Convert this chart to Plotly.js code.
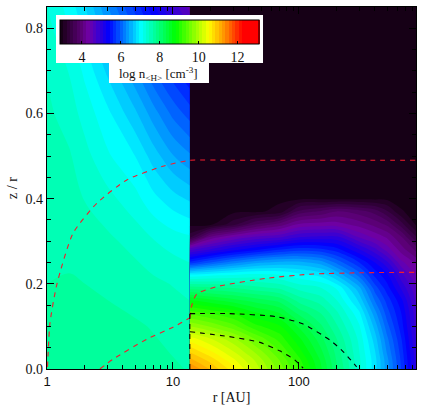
<!DOCTYPE html>
<html>
<head>
<meta charset="utf-8">
<script src="https://cdn.plot.ly/plotly-3.0.1.min.js"></script>
<style>
  html, body { margin: 0; padding: 0; background: white; }
  #plot { width: 431px; height: 406px; }
</style>
</head>
<body>
<div id="plot"></div>
<script>
// inner disk (log n, rows = z/r, columns = r)
const innerR = [1, 1.5, 2, 3, 5, 7, 10, 13.6];
const innerZ = [0, 0.1, 0.2, 0.3, 0.4, 0.5, 0.6, 0.7, 0.8, 0.85];
const innerDensity = [
    [7.65, 7.68, 7.70, 7.72, 7.70, 7.68, 7.65, 7.62],
    [7.64, 7.66, 7.68, 7.68, 7.65, 7.62, 7.58, 7.55],
    [7.63, 7.64, 7.63, 7.60, 7.55, 7.50, 7.45, 7.40],
    [7.62, 7.60, 7.55, 7.50, 7.40, 7.30, 7.22, 7.18],
    [7.60, 7.58, 7.45, 7.35, 7.18, 7.00, 6.85, 6.75],
    [7.55, 7.48, 7.35, 7.15, 6.95, 6.70, 6.45, 6.30],
    [7.50, 7.38, 7.22, 7.00, 6.65, 6.35, 6.05, 5.85],
    [7.45, 7.28, 7.08, 6.75, 6.30, 5.95, 5.65, 5.40],
    [7.35, 7.12, 6.90, 6.45, 5.90, 5.50, 5.10, 4.75],
    [7.30, 7.05, 6.80, 6.30, 5.70, 5.30, 4.85, 4.50]
];

// outer disk
const outerR = [13.6, 20, 30, 45, 70, 100, 150, 200, 300, 400, 500, 650, 850];
const outerZ = [0, 0.02, 0.04, 0.07, 0.10, 0.13, 0.16, 0.19, 0.22, 0.25, 0.28, 0.31, 0.34, 0.37, 0.40, 0.85];
const outerDensity = [
    [11.4, 11.0, 10.6, 10.1, 9.60, 9.15, 8.50, 8.00, 7.35, 6.85, 6.35, 5.75, 5.00],
    [11.1, 10.8, 10.4, 10.0, 9.50, 9.05, 8.45, 7.95, 7.33, 6.85, 6.33, 5.72, 5.00],
    [10.85, 10.55, 10.2, 9.82, 9.35, 8.90, 8.35, 7.90, 7.30, 6.80, 6.25, 5.68, 4.95],
    [10.45, 10.2, 9.90, 9.50, 9.10, 8.70, 8.20, 7.80, 7.25, 6.70, 6.15, 5.60, 4.90],
    [9.85, 9.65, 9.40, 9.05, 8.85, 8.45, 8.00, 7.65, 7.15, 6.55, 6.00, 5.50, 4.85],
    [9.30, 9.15, 9.00, 8.70, 8.50, 8.10, 7.80, 7.50, 7.00, 6.35, 5.85, 5.42, 4.80],
    [8.70, 8.55, 8.40, 8.25, 8.10, 7.75, 7.55, 7.30, 6.75, 6.10, 5.70, 5.30, 4.70],
    [7.90, 7.85, 7.80, 7.70, 7.60, 7.40, 7.30, 7.10, 6.50, 5.85, 5.50, 5.05, 4.60],
    [7.03, 7.10, 7.15, 7.20, 7.15, 7.03, 6.90, 6.60, 6.05, 5.55, 5.30, 4.80, 4.40],
    [5.65, 5.95, 6.20, 6.40, 6.50, 6.50, 6.35, 6.05, 5.60, 5.25, 4.95, 4.45, 4.20],
    [4.70, 4.95, 5.20, 5.39, 5.60, 5.70, 5.65, 5.50, 5.10, 4.80, 4.50, 4.15, 3.85],
    [3.30, 4.10, 4.40, 4.60, 4.70, 4.90, 4.95, 4.95, 4.55, 4.35, 4.20, 3.90, 3.40],
    [3.00, 3.00, 3.30, 3.70, 3.95, 4.25, 4.30, 4.30, 4.15, 4.00, 3.85, 3.45, 3.00],
    [3.00, 3.00, 3.00, 3.00, 3.10, 3.60, 3.75, 3.90, 3.80, 3.65, 3.40, 3.05, 3.00],
    [3.00, 3.00, 3.00, 3.00, 3.00, 3.00, 3.00, 3.00, 3.00, 3.00, 3.00, 3.00, 3.00],
    [3.00, 3.00, 3.00, 3.00, 3.00, 3.00, 3.00, 3.00, 3.00, 3.00, 3.00, 3.00, 3.00]
];

// dashed boundaries
const upperRedR = [1.01, 1.056, 1.2, 1.61, 2.5, 4.3, 8.3, 13.6, 30, 100, 400, 850];
const upperRedZ = [0.005, 0.108, 0.2, 0.319, 0.39, 0.444, 0.476, 0.49, 0.49, 0.49, 0.49, 0.49];
const lowerRedInnerR = [2.63, 3.34, 6.2, 10, 13.6];
const lowerRedInnerZ = [0, 0.023, 0.07, 0.098, 0.12];
const lowerRedOuterR = [13.6, 14, 15.4, 22, 55, 130, 322, 850];
const lowerRedOuterZ = [0.12, 0.146, 0.176, 0.193, 0.213, 0.223, 0.226, 0.227];
const blackUpperR = [13.6, 28, 66, 107, 176, 224, 287];
const blackUpperZ = [0.13, 0.13, 0.123, 0.106, 0.068, 0.041, 0.005];
const blackLowerR = [13.6, 28, 49, 71, 93, 108];
const blackLowerZ = [0.0876, 0.076, 0.0625, 0.042, 0.021, 0.002];
const blackEdgeR = [13.6, 13.6];
const blackEdgeZ = [0, 0.13];

const densityColors = [
    [0, '#0a000a'],
    [0.013, '#1c001c'],
    [0.11, '#5c0078'],
    [0.146, '#7000a8'],
    [0.246, '#0000ff'],
    [0.407, '#00ffff'],
    [0.583, '#00ff00'],
    [0.749, '#ffff00'],
    [0.824, '#ff9900'],
    [0.92, '#ff0000'],
    [1, '#ff0000']
];

const serif = 'Liberation Serif';
const sans = 'Liberation Sans';

function densityTrace(x, y, z, extra) {
    return Object.assign({
        type: 'contour',
        x: x,
        y: y,
        z: z,
        zmin: 2.87,
        zmax: 13.1,
        zauto: false,
        colorscale: densityColors,
        autocontour: false,
        contours: { start: 2.87, end: 13.1, size: 0.17, coloring: 'fill', showlines: false },
        line: { width: 0 },
        hoverinfo: 'skip',
        showscale: false
    }, extra);
}

function dashedLine(x, y, color) {
    return {
        type: 'scatter',
        mode: 'lines',
        x: x,
        y: y,
        line: { color: color, width: 1.1, dash: '5px,5px', shape: 'spline', smoothing: 0.6 },
        hoverinfo: 'skip'
    };
}

const traces = [
    densityTrace(innerR, innerZ, innerDensity),
    densityTrace(outerR, outerZ, outerDensity, {
        showscale: true,
        colorbar: {
            orientation: 'h',
            xref: 'paper',
            yref: 'paper',
            x: 0.0352,
            xanchor: 'left',
            y: 0.964,
            yanchor: 'top',
            lenmode: 'pixels',
            len: 199,
            thicknessmode: 'pixels',
            thickness: 24,
            xpad: 0,
            ypad: 0,
            outlinecolor: '#000',
            outlinewidth: 1,
            ticks: 'inside',
            ticklen: 3,
            tickcolor: '#000',
            tickvals: [4, 6, 8, 10, 12],
            tickfont: { family: serif, size: 14, color: '#111' }
        }
    }),
    dashedLine(upperRedR, upperRedZ, '#f41c2c'),
    dashedLine(lowerRedInnerR, lowerRedInnerZ, '#f41c2c'),
    dashedLine(lowerRedOuterR, lowerRedOuterZ, '#f41c2c'),
    dashedLine(blackUpperR, blackUpperZ, '#000'),
    dashedLine(blackLowerR, blackLowerZ, '#000'),
    dashedLine(blackEdgeR, blackEdgeZ, '#000')
];

// white panel behind the colour bar
const panelBack = { type: 'rect', xref: 'paper', yref: 'paper', layer: 'above',
    fillcolor: 'white', line: { width: 0 } };

const layout = {
    width: 431,
    height: 406,
    margin: { l: 47, r: 15, t: 7, b: 37 },
    paper_bgcolor: 'white',
    plot_bgcolor: 'white',
    showlegend: false,
    xaxis: {
        type: 'log',
        range: [0, 2.929],
        dtick: 1,
        ticks: 'inside',
        ticklen: 7,
        tickwidth: 1,
        tickcolor: '#000',
        minor: { ticks: 'inside', dtick: 'D1', ticklen: 4, tickcolor: '#000', tickwidth: 1 },
        showgrid: false,
        zeroline: false,
        showline: true,
        linecolor: '#000',
        linewidth: 1.2,
        mirror: 'allticks',
        tickfont: { family: sans, size: 13, color: '#111' },
        title: { text: 'r [AU]', font: { family: serif, size: 14, color: '#111' }, standoff: 4 }
    },
    yaxis: {
        range: [0, 0.85],
        tickvals: [0, 0.2, 0.4, 0.6, 0.8],
        ticktext: ['0.0', '0.2', '0.4', '0.6', '0.8'],
        ticks: 'inside',
        ticklen: 7,
        tickwidth: 1,
        tickcolor: '#000',
        minor: { ticks: 'inside', dtick: 0.05, ticklen: 4, tickcolor: '#000', tickwidth: 1 },
        showgrid: false,
        zeroline: false,
        showline: true,
        linecolor: '#000',
        linewidth: 1.2,
        mirror: 'allticks',
        tickfont: { family: serif, size: 14, color: '#111' },
        title: { text: 'z / r', font: { family: serif, size: 14, color: '#111' }, standoff: 4 }
    },
    shapes: [
        Object.assign({ x0: 0.0244, x1: 0.5854, y0: 0.8453, y1: 0.9779 }, panelBack),
        Object.assign({ x0: 0.168, x1: 0.439, y0: 0.79, y1: 0.85 }, panelBack)
    ],
    annotations: [{
        text: 'log n<sub>&lt;H&gt;</sub> [cm<sup>-3</sup>]',
        xref: 'paper',
        yref: 'paper',
        x: 0.3035,
        y: 0.815,
        xanchor: 'center',
        yanchor: 'middle',
        showarrow: false,
        font: { family: serif, size: 13, color: '#111' }
    }]
};

Plotly.newPlot('plot', traces, layout, { displayModeBar: false, responsive: false });
</script>
</body>
</html>
